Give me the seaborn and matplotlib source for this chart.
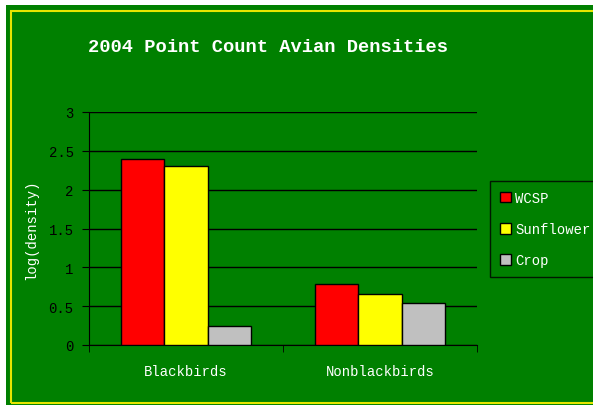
import pandas as pd
import numpy as np
import matplotlib.pyplot as plt
import seaborn as sns
from matplotlib.patches import Rectangle

# chart data
groups = ['Blackbirds', 'Nonblackbirds']
habitats = ['WCSP', 'Sunflower', 'Crop']
wcsp = [2.40, 0.79]
sunflower = [2.30, 0.66]
crop = [0.245, 0.545]
colors = ['#ff0000', '#ffff00', '#c0c0c0']

rows = []
for name, vals in zip(habitats, [wcsp, sunflower, crop]):
    for g, v in zip(groups, vals):
        rows.append({'group': g, 'habitat': name, 'value': v})
data = pd.DataFrame(rows)

green = '#008000'
mono = ['Liberation Mono', 'DejaVu Sans Mono']

fig = plt.figure(figsize=(5.93, 4.06), dpi=100)
fig.patch.set_facecolor('white')
# green panel + yellow border
fig.patches.append(Rectangle((6 / 593, 0), 1, 1 - 6 / 406, transform=fig.transFigure,
                             facecolor=green, edgecolor='none', zorder=-2))
fig.patches.append(Rectangle((11 / 593, 2 / 406), 1.0, 1 - 14 / 406, transform=fig.transFigure,
                             facecolor='none', edgecolor='#e6e600', linewidth=1.5, zorder=-1))

ax = fig.add_axes([89 / 593, 60 / 406, 388 / 593, 233 / 406])
ax.set_facecolor(green)

sns.barplot(data=data, x='group', y='value', hue='habitat', hue_order=habitats,
            order=groups, palette=colors, width=0.67, edgecolor='black',
            linewidth=1, saturation=1, ax=ax, zorder=3)

ax.set_ylim(0, 3)
ax.set_xlim(-0.5, 1.5)
ax.set_yticks(np.arange(0, 3.01, 0.5))
ax.set_yticklabels(['0', '0.5', '1', '1.5', '2', '2.5', '3'], fontfamily=mono, fontsize=10)
ax.set_xticks([0, 1])
ax.set_xticklabels(groups, fontfamily=mono, fontsize=10, color='white')
ax.set_xticks([-0.5, 0.5, 1.5], minor=True)
ax.tick_params(axis='x', which='major', length=0, pad=14)
ax.tick_params(axis='x', which='minor', length=5, color='black', direction='out')
ax.tick_params(axis='y', length=5, color='black', direction='out', pad=6)
ax.yaxis.grid(True, color='black', linewidth=1, zorder=0)
ax.set_axisbelow(True)
for s in ['top', 'right']:
    ax.spines[s].set_visible(False)
ax.spines['left'].set_color('black')
ax.spines['bottom'].set_color('black')
ax.set_xlabel('')
ax.set_ylabel('log(density)', color='white', fontfamily=mono, fontsize=10)
ax.yaxis.set_label_coords(-51 / 388, 0.5)

fig.text(268 / 593, 1 - 47 / 406, '2004 Point Count Avian Densities', ha='center', va='center',
         color='white', fontsize=13.5, fontweight='bold', fontfamily=mono)

ax.get_legend().remove()
handles = [Rectangle((0, 0), 1, 1, facecolor=c, edgecolor='black', linewidth=1) for c in colors]
leg = fig.legend(handles, habitats, loc='upper left',
                 bbox_to_anchor=(490 / 593, 1 - 182 / 406), frameon=True,
                 prop={'family': mono, 'size': 10}, handlelength=0.8, handleheight=0.8,
                 handletextpad=0.3, labelspacing=1.25, borderpad=0.7, borderaxespad=0,
                 fancybox=False)
leg.get_frame().set_facecolor(green)
leg.get_frame().set_edgecolor('black')
leg.get_frame().set_linewidth(1)
for t in leg.get_texts():
    t.set_color('white')

fig.savefig('out.png', dpi=100, facecolor=fig.get_facecolor())
